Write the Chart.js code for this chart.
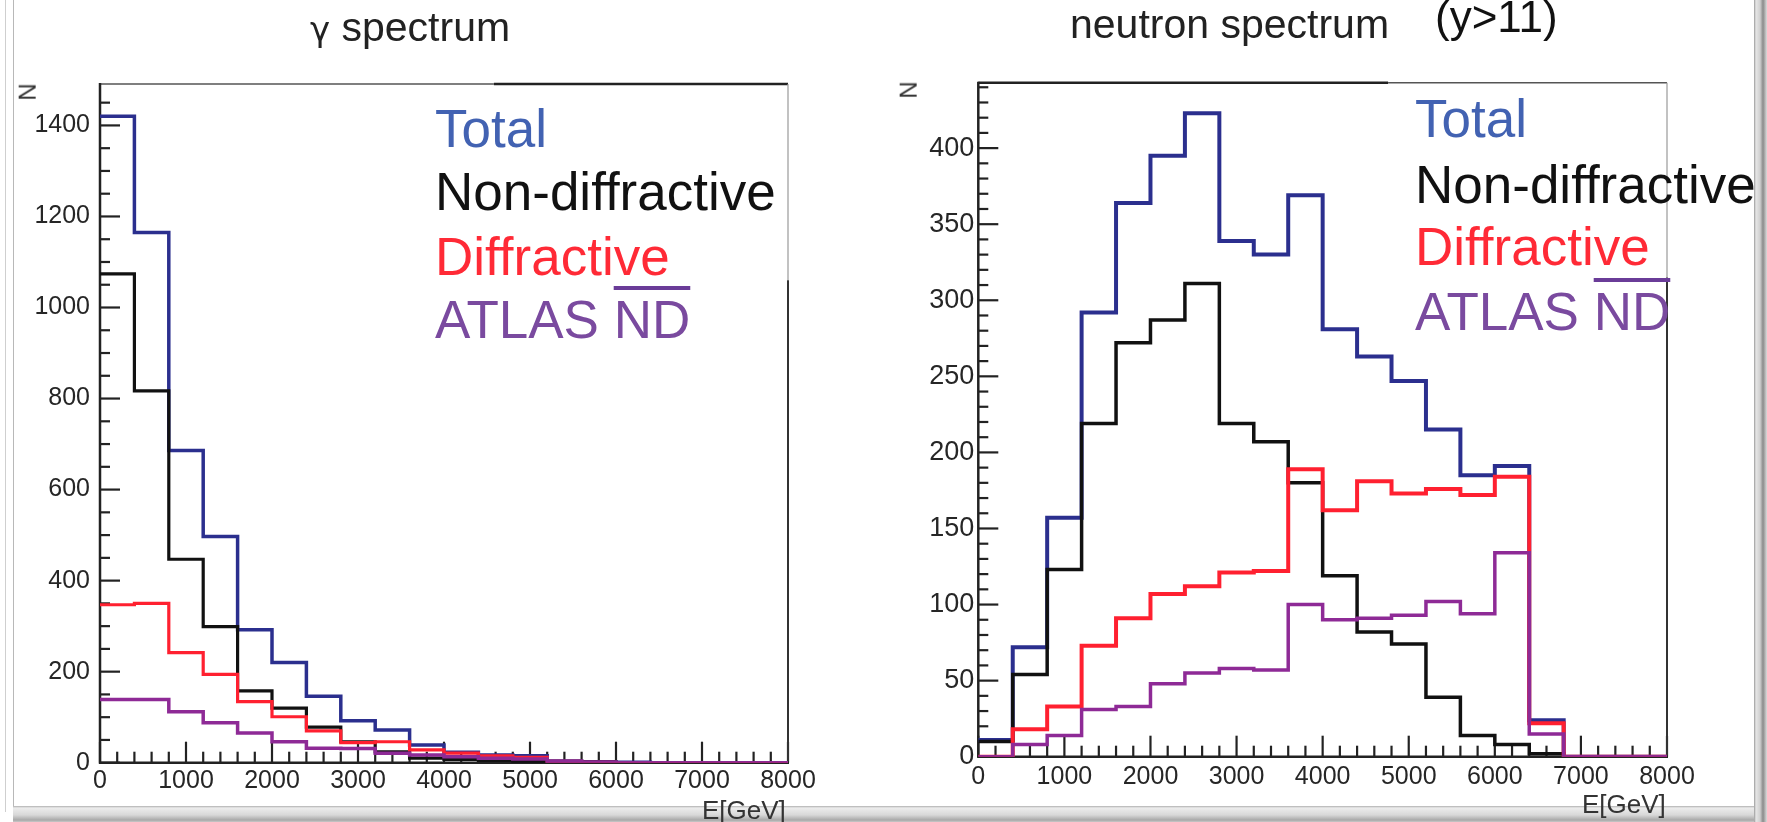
<!DOCTYPE html>
<html><head><meta charset="utf-8">
<script src="https://cdn.jsdelivr.net/npm/chart.js@4.4.1/dist/chart.umd.min.js"></script>
<style>
html,body{margin:0;padding:0;background:#fff;}
body{width:1767px;height:822px;position:relative;overflow:hidden;font-family:"Liberation Sans",Arial,sans-serif;}
canvas{position:absolute;top:0;}
.t{position:absolute;white-space:nowrap;line-height:1;}
.lg{font-size:53px;}
.dec{position:absolute;}
</style></head><body>
<div class="dec" style="left:5px;top:0;width:1px;height:812px;background:#cfcfcf"></div>
<div class="dec" style="left:13px;top:0;width:1px;height:806px;background:#b8b8b8"></div>
<div class="dec" style="left:13px;top:806px;width:1745px;height:16px;background:linear-gradient(#b0b0b0 0px,#ececec 2px,#d8d8d8 9px,#a8a8a8 14px,#c8c8c8 16px)"></div>
<div class="dec" style="left:1754px;top:0;width:13px;height:822px;background:linear-gradient(90deg,#9a9a9a 0px,#e6e6e6 2px,#d0d0d0 6px,#8a8a8a 9px,#dcdcdc 13px)"></div>
<canvas id="c1" width="880" height="822" style="left:0;width:880px;height:822px"></canvas>
<canvas id="c2" width="887" height="822" style="left:880px;width:887px;height:822px"></canvas>

<div class="t" style="left:310px;top:7px;font-size:41px;color:#222"><span style="font-family:'DejaVu Sans';font-size:34px">γ</span> spectrum</div>
<div class="t" style="left:1070px;top:4px;font-size:41px;color:#222">neutron spectrum</div>
<div class="t" style="left:1435px;top:-5px;font-size:44px;color:#111">(y&gt;11)</div>

<div class="t" style="left:19px;top:80px;font-size:24px;color:#333;transform:rotate(-90deg)">N</div>
<div class="t" style="left:900px;top:78px;font-size:24px;color:#333;transform:rotate(-90deg)">N</div>

<div class="t" style="left:702px;top:797px;font-size:26px;color:#333">E[GeV]</div>
<div class="t" style="left:1582px;top:791px;font-size:26px;color:#333">E[GeV]</div>

<div id="legend1"></div>
<div id="legend2"></div>

<script>
// ---- data ----
const binEdges = [0,400,800,1200,1600,2000,2400,2800,3200,3600,4000,4400,4800,5200,5600,6000,6400,6800,7200,7600,8000];
const xTickLabels = [0,1000,2000,3000,4000,5000,6000,7000,8000];
const gammaYTickLabels = [0,200,400,600,800,1000,1200,1400];
const neutronYTickLabels = [0,50,100,150,200,250,300,350,400];
const seriesNames = ['Total','Non-diffractive','Diffractive','ATLAS'];

const gammaTotal    = [1420,1165,686,497,292,220,146,92,72,39,23,17,15,4,2,1,0,0,0,0];
const gammaNonDiff  = [1074,817,447,299,158,120,78,46,24,10,7,5,3,2,1,0,0,0,0,0];
const gammaDiff     = [347,350,242,194,134,101,70,44,46,28,21,15,12,3,1,0,0,0,0,0];
const gammaAtlasND  = [139,139,112,88,65,46,32,31,21,17,13,10,8,3,1,0,0,0,0,0];

const neutronTotal   = [11,72,157,292,364,395,423,339,330,369,281,263,247,215,185,191,24,0,0,0];
const neutronNonDiff = [10,54,123,219,272,287,311,219,207,180,119,82,74,39,14,8,2,0,0,0];
const neutronDiff    = [0,18,33,73,91,107,112,121,122,189,162,181,173,176,172,184,22,0,0,0];
const neutronAtlasND = [0,8,14,31,33,48,55,58,57,100,90,91,93,102,94,134,15,0,0,0];

const gammaYMax = 1491;
const neutronYMax = 443;

// ---- styles ----
const lineColors = ['#2b2f8e','#111111','#ff2030','#8e2a96'];
const textColors = ['#4262b2','#111111','#ff2a36','#7a4a9f'];

function histPoints(values){
  return binEdges.map((x,i)=>({x:x, y:values[Math.min(i, values.length-1)]}));
}

const rootFrame = {
  id:'rootFrame',
  beforeDatasetsDraw(chart, args, o){
    const ctx = chart.ctx, a = chart.chartArea, xs = chart.scales.x, ys = chart.scales.y;
    ctx.save();
    ctx.lineCap = 'butt';
    const seg = (x1,y1,x2,y2,w,c)=>{ctx.beginPath();ctx.lineWidth=w;ctx.strokeStyle=c;ctx.moveTo(x1,y1);ctx.lineTo(x2,y2);ctx.stroke();};
    // x ticks
    for (let v = 0; v <= xs.max + 1e-6; v += o.xMinor){
      const px = xs.getPixelForValue(v);
      const len = (Math.abs(v % o.xMajor) < 1e-6) ? 21 : 11;
      seg(px, a.bottom, px, a.bottom - len, 2.2, '#222');
    }
    // y ticks
    for (let v = 0; v <= ys.max + 1e-6; v += o.yMinor){
      const py = ys.getPixelForValue(v);
      const len = (Math.abs(v % o.yMajor) < 1e-6) ? 20 : 10;
      seg(a.left, py, a.left + len, py, 2.2, '#222');
    }
    // frame
    const tx = xs.getPixelForValue(o.topSplit);
    const ry = ys.getPixelForValue(o.rightSplit);
    if (o.topThickFirst){
      seg(a.left, a.top, tx, a.top, 2.5, '#222');
      seg(tx, a.top, a.right, a.top, 1.5, '#555');
    } else {
      seg(a.left, a.top, tx, a.top, 1.5, '#555');
      seg(tx, a.top, a.right, a.top, 2.5, '#222');
    }
    seg(a.right, a.top, a.right, ry, 1.2, '#999');
    seg(a.right, ry, a.right, a.bottom, 2, '#333');
    seg(a.left, a.top - 1, a.left, a.bottom + 1, 2.5, '#222');
    seg(a.left - 1, a.bottom, a.right + 1, a.bottom, 2.5, '#222');
    ctx.restore();
  }
};

function makeChart(id, cfg){
  const series = cfg.series;
  return new Chart(document.getElementById(id), {
    type:'line',
    data:{ datasets: series.map((s,i)=>({
      label: seriesNames[i],
      data: histPoints(s),
      borderColor: lineColors[i],
      borderWidth: cfg.widths[i],
      stepped: 'before',
      pointRadius: 0,
      fill: false,
      borderJoinStyle: 'miter',
      borderCapStyle: 'butt',
      order: 4 - i
    }))},
    options:{
      responsive:false, animation:false, events:[],
      layout:{ padding: cfg.padding },
      plugins:{ legend:{display:false}, tooltip:{enabled:false}, title:{display:false},
        rootFrame: cfg.frame },
      scales:{
        x:{ type:'linear', min:0, max:8000,
          afterBuildTicks: s => { s.ticks = xTickLabels.map(v=>({value:v})); },
          afterFit: s => { s.height = 40; },
          grid:{display:false, drawTicks:false}, border:{display:false},
          ticks:{ autoSkip:false, maxRotation:0, padding: cfg.xPad, color:'#262626',
            callback: v => String(v),
            font:{family:'Liberation Sans', size:25} } },
        y:{ type:'linear', min:0, max:cfg.yMax,
          afterBuildTicks: s => { s.ticks = cfg.yTicks.map(v=>({value:v})); },
          afterFit: s => { s.width = 70; },
          grid:{display:false, drawTicks:false}, border:{display:false},
          ticks:{ padding: cfg.yPad, color:'#262626',
            callback: v => String(v),
            font:{family:'Liberation Sans', size:cfg.yFont} } }
      }
    },
    plugins:[rootFrame]
  });
}

makeChart('c1', {
  series:[gammaTotal, gammaNonDiff, gammaDiff, gammaAtlasND],
  widths:[3.5,3.2,3.2,3.5],
  yMax: gammaYMax, yTicks: gammaYTickLabels, yFont:25,
  padding:{left:30, right:92, top:84, bottom:19.3},
  xPad:3, yPad:10,
  frame:{xMinor:200, xMajor:1000, yMinor:50, yMajor:200, topSplit:4580, rightSplit:1060, topThickFirst:false}
});
makeChart('c2', {
  series:[neutronTotal, neutronNonDiff, neutronDiff, neutronAtlasND],
  widths:[4,3.5,4,3.5],
  yMax: neutronYMax, yTicks: neutronYTickLabels, yFont:27,
  padding:{left:28.3, right:100, top:82.7, bottom:25.3},
  xPad:5, yPad:4,
  frame:{xMinor:200, xMajor:1000, yMinor:10, yMajor:50, topSplit:4760, rightSplit:315, topThickFirst:true}
});

// legends (real text)
function legend(elId, left, baselines){
  const el = document.getElementById(elId);
  seriesNames.forEach((name,i)=>{
    const d = document.createElement('div');
    d.className = 't lg';
    d.style.left = left + 'px';
    d.style.top = (baselines[i] - 45) + 'px';
    d.style.color = textColors[i];
    if (i === 3){
      d.innerHTML = name + ' <span style="text-decoration:overline;text-decoration-thickness:4px;text-decoration-color:#6a3c98">ND</span>';
    } else {
      d.textContent = name;
    }
    el.appendChild(d);
  });
}
legend('legend1', 435, [147,210,275,338]);
legend('legend2', 1415, [137,203,265,330]);
</script>
</body></html>
